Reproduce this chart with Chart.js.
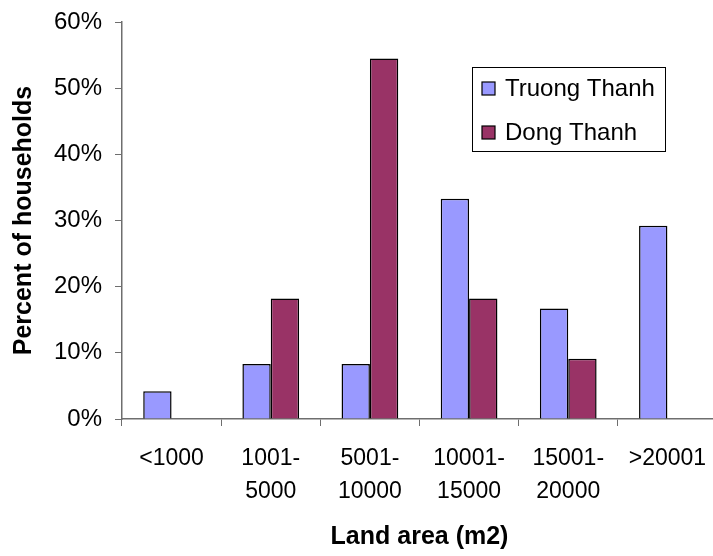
<!DOCTYPE html>
<html>
<head>
<meta charset="utf-8">
<script src="https://cdn.jsdelivr.net/npm/chart.js@4/dist/chart.umd.min.js"></script>
<style>
  html, body { margin: 0; padding: 0; background: #fff; overflow: hidden; }
  #wrap { position: relative; width: 717px; height: 556px; }
</style>
</head>
<body>
<div id="wrap"><canvas id="landChart"></canvas></div>
<script>
// land area classes (m2) and share of households in each
const categories = ['<1000', ['1001-', '5000'], ['5001-', '10000'], ['10001-', '15000'], ['15001-', '20000'], '>20001'];
const truongThanh = [4.2, 8.3, 8.3, 33.3, 16.7, 29.2];
const dongThanh = [0, 18.2, 54.5, 18.2, 9.1, 0];
const yTicks = [0, 10, 20, 30, 40, 50, 60];

const FONT = "'Liberation Sans', Arial, sans-serif";
const AXIS_COLOR = '#6e6e6e';

// boxed legend sitting inside the plot, top right
const boxLegend = {
    id: 'boxLegend',
    afterDraw(chart) {
        const ctx = chart.ctx;
        const x = 472, y = 67, w = 193, h = 84;
        ctx.save();
        ctx.fillStyle = '#fff';
        ctx.fillRect(x, y, w, h);
        ctx.strokeStyle = '#000';
        ctx.lineWidth = 1;
        ctx.strokeRect(x + 0.5, y + 0.5, w, h);
        ctx.font = '24px ' + FONT;
        ctx.textBaseline = 'middle';
        chart.data.datasets.forEach((ds, i) => {
            const cy = y + 21 + i * 44;
            ctx.fillStyle = ds.backgroundColor;
            ctx.fillRect(x + 10, cy - 6, 13, 13);
            ctx.strokeStyle = '#000';
            ctx.lineWidth = 1.2;
            ctx.strokeRect(x + 10, cy - 6, 13, 13);
            ctx.fillStyle = '#000';
            ctx.fillText(ds.label, x + 33, cy + 1);
        });
        ctx.restore();
    }
};

new Chart(document.getElementById('landChart'), {
    type: 'bar',
    data: {
        labels: categories,
        datasets: [
            {
                label: 'Truong Thanh',
                data: truongThanh,
                backgroundColor: '#9999FF',
                borderColor: '#000',
                borderWidth: 1.5,
                categoryPercentage: 0.572,
                barPercentage: 1
            },
            {
                label: 'Dong Thanh',
                data: dongThanh,
                backgroundColor: '#993366',
                borderColor: '#000',
                borderWidth: 1.5,
                categoryPercentage: 0.572,
                barPercentage: 1
            }
        ]
    },
    options: {
        responsive: true,
        maintainAspectRatio: false,
        animation: false,
        layout: { padding: { top: 22, right: 0, left: 0, bottom: 0 } },
        plugins: {
            legend: { display: false },
            tooltip: { enabled: false }
        },
        scales: {
            x: {
                grid: { display: true, drawOnChartArea: false, drawTicks: true, tickLength: 7, color: AXIS_COLOR, offset: true },
                border: { display: true, color: AXIS_COLOR, width: 1.5 },
                ticks: { color: '#000', font: { family: FONT, size: 23, lineHeight: 1.4 }, padding: 17, maxRotation: 0, autoSkip: false },
                title: { display: true, text: 'Land area (m2)', color: '#000', font: { family: FONT, size: 25, weight: 'bold' }, padding: { top: 15 } },
                afterFit: (scale) => {
                    scale.height = 137;
                    scale.paddingLeft = 0;
                    scale.paddingRight = 0;
                }
            },
            y: {
                min: 0,
                max: 60,
                afterBuildTicks: (scale) => { scale.ticks = yTicks.map(v => ({ value: v })); },
                grid: { display: true, drawOnChartArea: false, drawTicks: true, tickLength: 7, color: AXIS_COLOR },
                border: { display: true, color: AXIS_COLOR, width: 1.5 },
                ticks: { color: '#000', font: { family: FONT, size: 24 }, padding: 13, callback: (v) => v + '%' },
                title: { display: true, text: 'Percent of households', color: '#000', font: { family: FONT, size: 25, weight: 'bold' }, padding: { top: 9, bottom: 0 } },
                afterFit: (scale) => {
                    scale.width = 122;
                    scale.paddingTop = 0;
                    scale.paddingBottom = 0;
                }
            }
        }
    },
    plugins: [boxLegend]
});
</script>
</body>
</html>
